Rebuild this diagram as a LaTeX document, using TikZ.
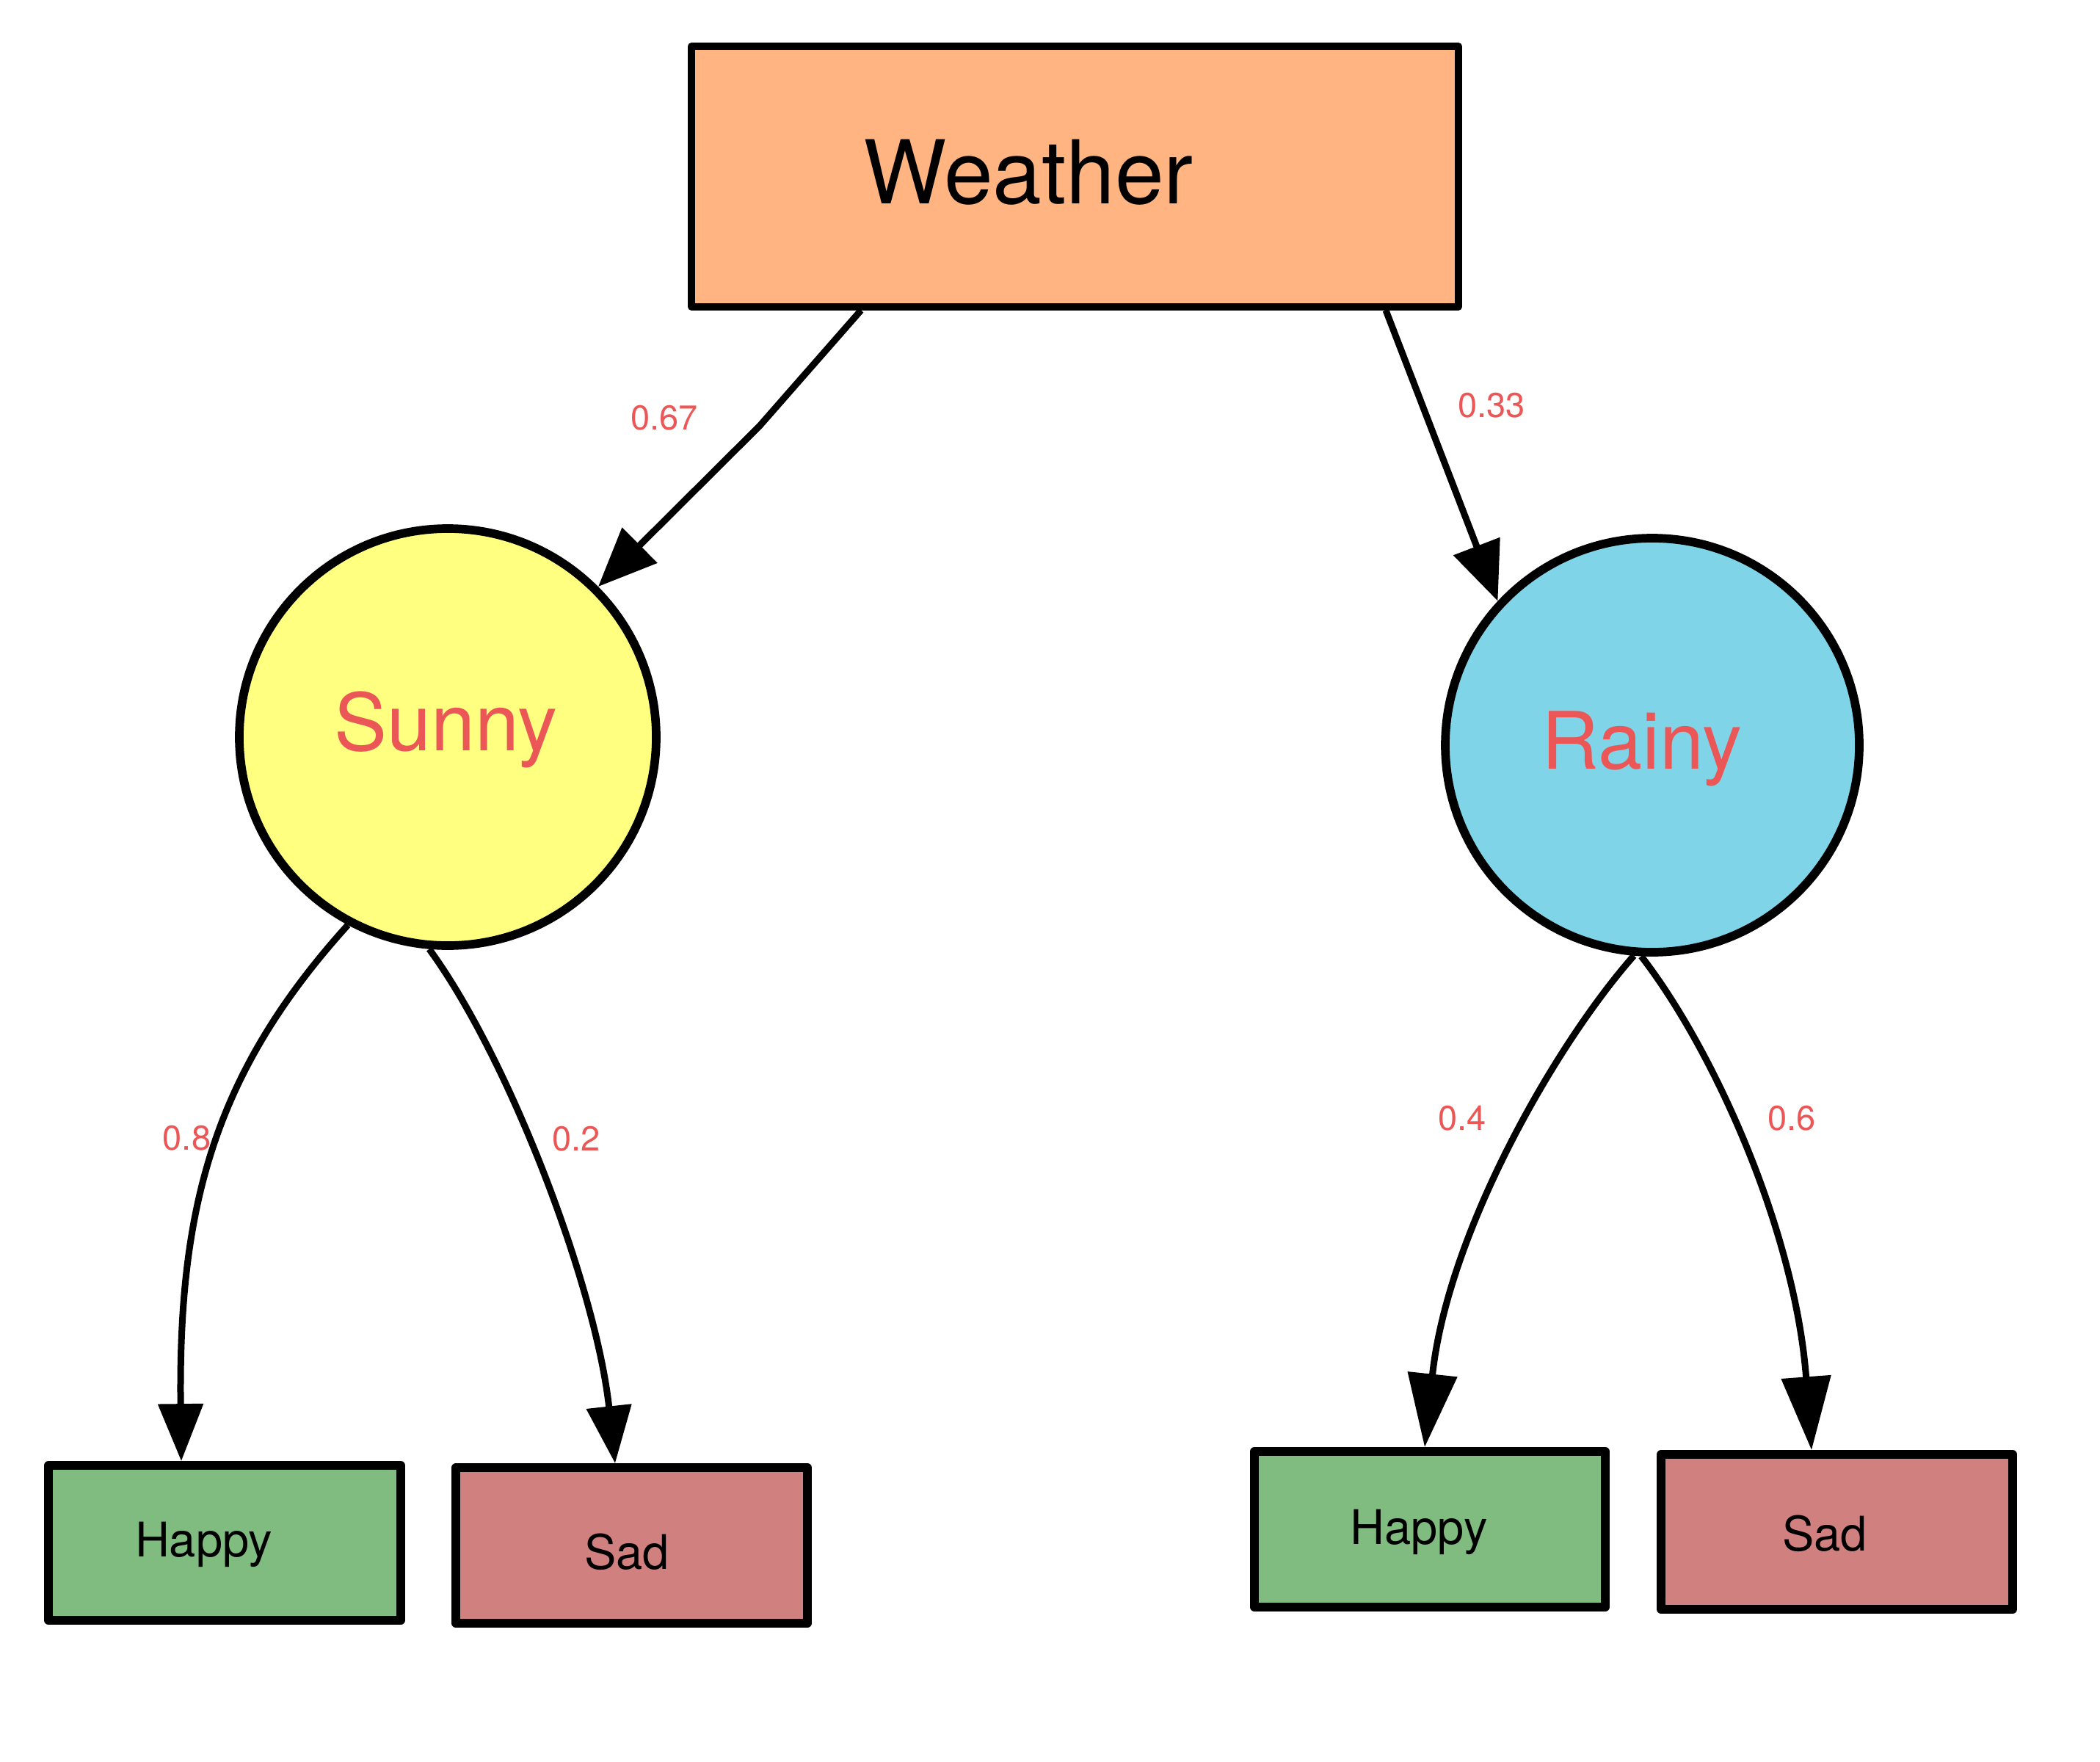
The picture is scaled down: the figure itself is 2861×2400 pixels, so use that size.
\documentclass[tikz,border=0pt]{standalone}
\usepackage{fontspec}
\setmainfont{TeX Gyre Heros}
\usetikzlibrary{arrows.meta,calc}
\definecolor{wfill}{HTML}{FFB482}
\definecolor{sfill}{HTML}{FFFF80}
\definecolor{rfill}{HTML}{80D4E8}
\definecolor{hfill}{HTML}{80BC80}
\definecolor{dfill}{HTML}{D18080}
\definecolor{lred}{HTML}{EB5757}
\begin{document}
\begin{tikzpicture}[x=1pt,y=-1pt,
  leaf/.style={draw=black,line width=11.7pt,minimum width=479pt,minimum height=211pt,inner sep=0pt,line join=round},
  state/.style={circle,draw=black,line width=11.7pt,inner sep=0pt},
  bigtxt/.style={anchor=base,inner sep=0pt,text=lred,font=\fontsize{108}{120}\selectfont},
  leaftxt/.style={anchor=base,inner sep=0pt,font=\fontsize{65}{78}\selectfont},
  prob/.style={anchor=base,inner sep=0pt,text=lred,font=\fontsize{47}{55}\selectfont},
  edge/.style={line width=9pt,draw=black,line join=round},
  toptip/.style={-{Triangle[length=80pt,width=66pt]}},
  lefttip/.style={-{Triangle[length=78pt,width=60pt]}},
  righttip/.style={-{Triangle[length=100pt,width=66pt]}}
]
\useasboundingbox[fill=white] (0,0) rectangle (2861,2400);

% nodes
\node[draw=black,line width=9.3pt,line join=round,fill=wfill,minimum width=1045pt,minimum height=355pt,inner sep=0pt] (weather) at (1464.5,240.5) {};
\node[anchor=base,inner sep=0pt,font=\fontsize{120}{140}\selectfont] (weathertxt) at (1401,278) {Weather};

\node[state,fill=sfill,minimum size=568pt] (sunny) at (610,1004) {};
\node[bigtxt] (sunnytxt) at (607.5,1022) {Sunny};

\node[state,fill=rfill,minimum size=564pt] (rainy) at (2251,1015) {};
\node[bigtxt] (rainytxt) at (2237,1047) {Rainy};

\node[leaf,fill=hfill,minimum width=480pt] (hl) at (306,2101.5) {};
\node[leaftxt] (hltxt) at (277.5,2120) {Happy};

\node[leaf,fill=dfill,minimum height=212pt] (sl) at (860.5,2105) {};
\node[leaftxt] (sltxt) at (854,2137) {Sad};

\node[leaf,fill=hfill,minimum width=478pt,minimum height=212pt] (hr) at (1948,2083) {};
\node[leaftxt] (hrtxt) at (1933,2103) {Happy};

\node[leaf,fill=dfill] (sr) at (2502.5,2086.5) {};
\node[leaftxt] (srtxt) at (2486,2112) {Sad};

% connectors
\coordinate (bend) at (1035,580);
\draw[edge,toptip] ($(weather.south)+(-291.5,0)$) -- (bend) -- (sunny.45);
\draw[edge,toptip] ($(weather.south)+(423.5,0)$) -- (rainy.137.5);
\draw[edge,lefttip] (sunny.242) .. controls (292,1461) and (243,1643) .. ($(hl.north)+(-59,0)$);
\draw[edge,lefttip] (sunny.265) .. controls (694,1442) and (812,1753) .. ($(sl.north)+(-22.5,0)$);
\draw[edge,righttip] (rainy.265) .. controls (2118,1424) and (1972,1680) .. ($(hr.north)+(-7,0)$);
\draw[edge,righttip] (rainy.267) .. controls (2337,1433) and (2446,1680) .. ($(sr.north)+(-34.5,0)$);

% probability labels
\node[prob] (p1) at (905,585) {0.67};
\node[prob] (p2) at (2032,568) {0.33};
\node[prob] (p3) at (254.5,1566) {0.8};
\node[prob] (p4) at (785,1567) {0.2};
\node[prob] (p5) at (1992,1539) {0.4};
\node[prob] (p6) at (2441,1539) {0.6};
\end{tikzpicture}
\end{document}
